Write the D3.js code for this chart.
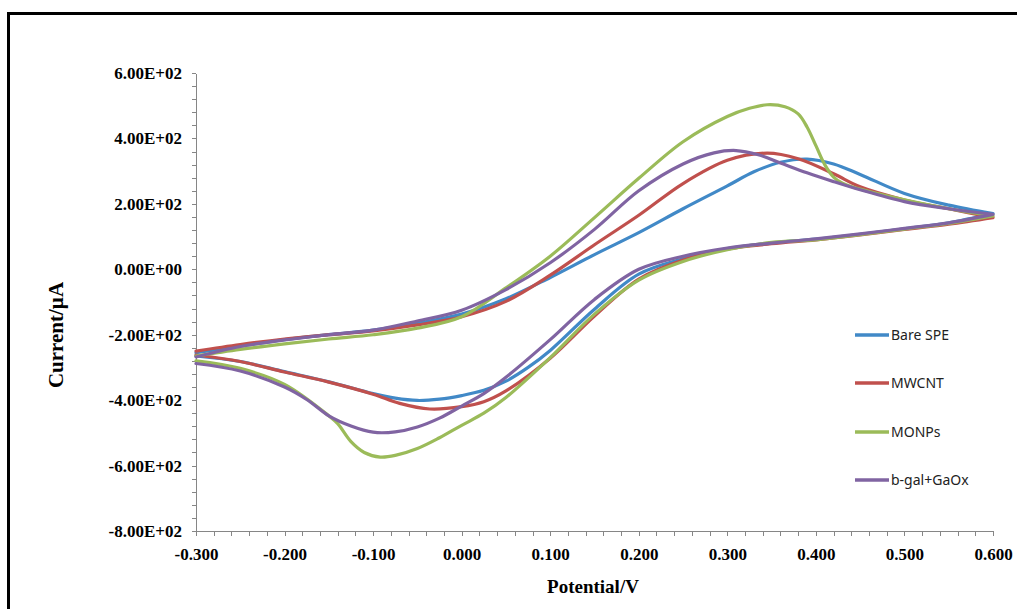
<!DOCTYPE html>
<html>
<head>
<meta charset="utf-8">
<script src="https://d3js.org/d3.v7.min.js"></script>
<style>
	body {margin:0; background:#fff;}
	.axis path, .axis line {stroke:#868686; shape-rendering:crispEdges;}
	.axis text {font-family:"Liberation Serif","Times New Roman",serif; font-weight:bold; font-size:17px; fill:#000;}
	.title {font-family:"Liberation Serif","Times New Roman",serif; font-weight:bold; fill:#000;}
	.legend text {font-family:"Noto Sans","Liberation Sans",sans-serif; font-size:14px; fill:#222;}
</style>
</head>
<body>
<svg id="chart" width="1017" height="609"></svg>
<script>
"use strict";

// chart data, potential (V) vs current (uA)
var series_names = ["Bare SPE","MWCNT","MONPs","b-gal+GaOx"];

// forward scan (-0.3 -> 0.6)
var bare_fwd = [[-0.3,-255],[-0.25,-235],[-0.2,-215],[-0.15,-200],[-0.1,-186],[-0.05,-165],[0,-137],[0.05,-90],[0.1,-25],[0.15,45],[0.2,112],[0.25,185],[0.3,255],[0.33,298],[0.36,327],[0.39,337],[0.42,322],[0.45,290],[0.5,232],[0.55,196],[0.6,170]];
var mwcnt_fwd = [[-0.3,-250],[-0.25,-230],[-0.2,-213],[-0.15,-200],[-0.1,-188],[-0.05,-170],[0,-145],[0.05,-98],[0.1,-18],[0.15,75],[0.2,165],[0.25,262],[0.3,333],[0.345,355],[0.38,338],[0.42,292],[0.45,252],[0.5,212],[0.55,185],[0.6,158]];
var monps_fwd = [[-0.3,-265],[-0.25,-245],[-0.2,-228],[-0.15,-213],[-0.1,-200],[-0.05,-180],[0,-145],[0.05,-57],[0.1,40],[0.15,158],[0.2,278],[0.25,390],[0.3,467],[0.325,492],[0.345,503],[0.365,497],[0.38,475],[0.39,435],[0.4,378],[0.41,320],[0.42,282],[0.43,263],[0.45,245],[0.5,212],[0.55,185],[0.6,163]];
var bgal_fwd = [[-0.3,-268],[-0.25,-236],[-0.2,-216],[-0.15,-200],[-0.1,-186],[-0.05,-158],[0,-125],[0.05,-62],[0.1,20],[0.15,122],[0.2,240],[0.25,322],[0.285,356],[0.31,363],[0.335,350],[0.36,325],[0.39,295],[0.42,268],[0.45,243],[0.5,207],[0.55,185],[0.6,168]];

// reverse scan (0.6 -> -0.3)
var bare_rev = [[0.6,170],[0.55,142],[0.5,124],[0.45,107],[0.4,92],[0.35,80],[0.3,63],[0.25,32],[0.2,-15],[0.15,-122],[0.1,-248],[0.075,-300],[0.05,-342],[0.025,-370],[0,-386],[-0.025,-397],[-0.05,-401],[-0.075,-394],[-0.1,-380],[-0.15,-344],[-0.2,-313],[-0.25,-282],[-0.3,-265]];
var mwcnt_rev = [[0.6,158],[0.55,138],[0.5,122],[0.45,105],[0.4,90],[0.35,78],[0.3,62],[0.25,28],[0.2,-30],[0.15,-143],[0.1,-272],[0.05,-372],[0.025,-405],[0,-420],[-0.036,-427],[-0.07,-410],[-0.1,-382],[-0.15,-345],[-0.2,-314],[-0.25,-282],[-0.3,-262]];
var monps_rev = [[0.6,163],[0.55,140],[0.5,123],[0.45,106],[0.4,90],[0.35,82],[0.3,60],[0.25,24],[0.2,-33],[0.15,-137],[0.1,-270],[0.05,-392],[0.025,-440],[0,-477],[-0.025,-515],[-0.05,-548],[-0.075,-569],[-0.092,-574],[-0.11,-560],[-0.125,-527],[-0.14,-472],[-0.15,-448],[-0.2,-352],[-0.25,-303],[-0.3,-280]];
var bgal_rev = [[0.6,168],[0.55,142],[0.5,125],[0.45,108],[0.4,93],[0.35,80],[0.3,65],[0.25,40],[0.2,0],[0.15,-92],[0.1,-215],[0.05,-330],[0.025,-380],[0,-418],[-0.025,-455],[-0.05,-482],[-0.075,-497],[-0.1,-498],[-0.125,-479],[-0.15,-448],[-0.175,-398],[-0.2,-360],[-0.25,-311],[-0.3,-288]];

var x_major = [-0.3,-0.2,-0.1,0,0.1,0.2,0.3,0.4,0.5,0.6];
var x_tick_labels = ["-0.300","-0.200","-0.100","0.000","0.100","0.200","0.300","0.400","0.500","0.600"];
var y_major = [600,400,200,0,-200,-400,-600,-800];
var y_tick_labels = ["6.00E+02","4.00E+02","2.00E+02","0.00E+00","-2.00E+02","-4.00E+02","-6.00E+02","-8.00E+02"];

var series_fwd = [bare_fwd, mwcnt_fwd, monps_fwd, bgal_fwd];
var series_rev = [bare_rev, mwcnt_rev, monps_rev, bgal_rev];
var series_colors = ["#4189C7","#C0504D","#9BBB59","#8064A2"];

var svg = d3.select("#chart");

// outer frame of the figure
svg.append("rect")
	.attr("x",8.5).attr("y",13.5)
	.attr("width",1100).attr("height",700)
	.attr("fill","#fff")
	.attr("stroke","#000").attr("stroke-width",3);

var x = d3.scaleLinear().domain([-0.3,0.6]).range([196,993]);
var y = d3.scaleLinear().domain([-800,600]).range([531,73]);

/////////////////////////////////////////
// axes
var x_minor = d3.range(0,46).map(function(k){return -0.3 + k*0.02;});
var y_minor = d3.range(0,36).map(function(k){return -800 + k*40;});

svg.append("g").attr("class","axis")
	.attr("transform","translate(0,531)")
	.call(d3.axisBottom(x).tickValues(x_minor).tickFormat("").tickSize(5).tickSizeOuter(0));

svg.append("g").attr("class","axis")
	.attr("transform","translate(0,531)")
	.call(d3.axisBottom(x).tickValues(x_major).tickSize(5).tickSizeOuter(0).tickPadding(12)
		.tickFormat(function(d,i){return x_tick_labels[i];}));

svg.append("g").attr("class","axis")
	.attr("transform","translate(196,0)")
	.call(d3.axisLeft(y).tickValues(y_minor).tickFormat("").tickSize(4).tickSizeOuter(0));

svg.append("g").attr("class","axis")
	.attr("transform","translate(196,0)")
	.call(d3.axisLeft(y).tickValues(y_major).tickSize(4).tickSizeOuter(0).tickPadding(10)
		.tickFormat(function(d,i){return y_tick_labels[i];}));

// axis titles
svg.append("text").attr("class","title")
	.attr("x",593).attr("y",593)
	.attr("text-anchor","middle")
	.style("font-size","19px")
	.text("Potential/V");

svg.append("text").attr("class","title")
	.attr("transform","translate(63,335) rotate(-90)")
	.attr("text-anchor","middle")
	.style("font-size","21px")
	.text("Current/µA");

/////////////////////////////////////////
// voltammograms
var line = d3.line()
	.x(function(d){return x(d[0]);})
	.y(function(d){return y(d[1]);})
	.curve(d3.curveCatmullRom.alpha(0.5));

var plot = svg.append("g").attr("class","curves");
series_names.forEach(function(name,k){
	plot.append("path")
		.attr("d", line(series_fwd[k]) + line(series_rev[k]))
		.attr("fill","none")
		.attr("stroke",series_colors[k])
		.attr("stroke-width",3.2)
		.attr("stroke-linecap","round")
		.attr("stroke-linejoin","round");
});

/////////////////////////////////////////
// legend
var legend_rows = [335,383,432,480];
var legend = svg.append("g").attr("class","legend");
series_names.forEach(function(name,k){
	var g = legend.append("g").attr("transform","translate(0,"+legend_rows[k]+")");
	g.append("line")
		.attr("x1",855).attr("x2",889)
		.attr("stroke",series_colors[k]).attr("stroke-width",3.5);
	g.append("text")
		.attr("x",891).attr("dy","0.35em")
		.text(name);
});
</script>
</body>
</html>
